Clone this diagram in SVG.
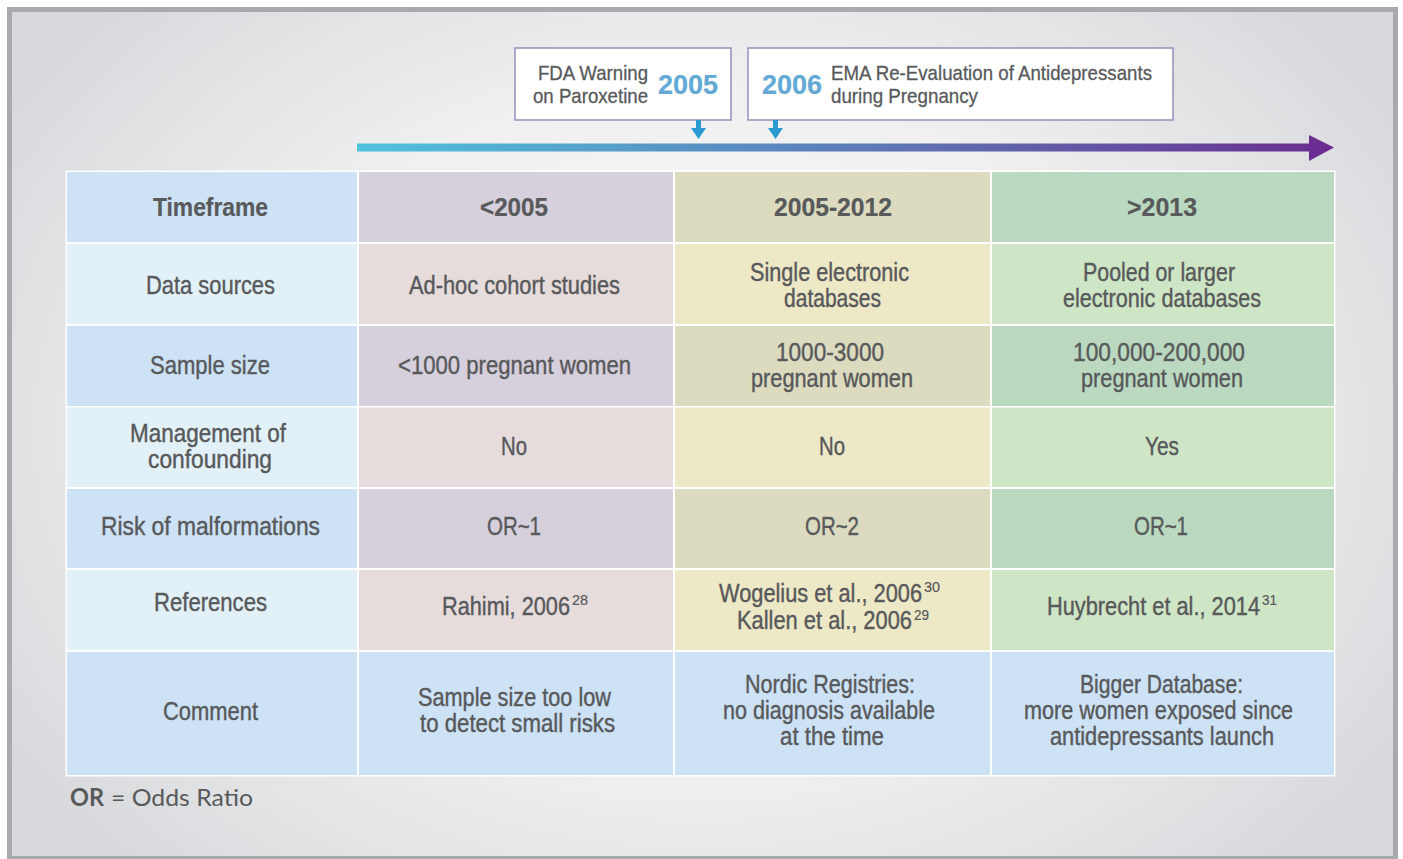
<svg xmlns="http://www.w3.org/2000/svg" width="1403" height="859" viewBox="0 0 1403 859">
  <defs>
    <radialGradient id="bgGrad" cx="700" cy="430" r="820" gradientUnits="userSpaceOnUse" gradientTransform="translate(700 430) scale(1 0.75) rotate(20) translate(-700 -430)">
      <stop offset="0" stop-color="#fafafa"/>
      <stop offset="0.55" stop-color="#f0f0f1"/>
      <stop offset="1" stop-color="#d8d9dc"/>
    </radialGradient>
    <linearGradient id="timeGrad" x1="357" y1="0" x2="1334" y2="0" gradientUnits="userSpaceOnUse">
      <stop offset="0" stop-color="#4fc2df"/>
      <stop offset="0.45" stop-color="#5b84bc"/>
      <stop offset="1" stop-color="#6a2d91"/>
    </linearGradient>
    <style>
      .t { font-family: "Liberation Sans Narrow", "Liberation Sans", Arial, sans-serif; font-size: 25px; fill: #58595b; stroke: #58595b; stroke-width: 0.4px; text-anchor: middle; }
      .b { font-weight: bold; font-size: 26px; stroke-width: 0.2px; }
      .s { font-size: 14px; stroke-width: 0.2px; }
      .l { text-anchor: start; }
      .r { text-anchor: end; }
      .box { fill: #ffffff; stroke: #958fb5; stroke-width: 1.5; }
      .yr { font-weight: bold; font-size: 28px; fill: #62a9d6; stroke: #62a9d6; stroke-width: 0.2px; text-anchor: start; }
      .bt { font-size: 21px; stroke-width: 0.3px; }
      .hd0 { fill: #cde2f5; }
      .lt0 { fill: #e2f1f7; }
      .hd1 { fill: #d6cfdc; }
      .lt1 { fill: #e6dcdb; }
      .hd2 { fill: #dcdbc0; }
      .lt2 { fill: #ede8c6; }
      .hd3 { fill: #bad9c0; }
      .lt3 { fill: #cfe6c6; }
      .cm { fill: #cde2f5; }
      .foot { font-family: Lato, "Open Sans", "Liberation Sans", sans-serif; font-size: 24px; fill: #58595b; }
      .tip { fill: #2a9ad0; }
    </style>
  </defs>

  <!-- page frame -->
  <rect x="0" y="0" width="1403" height="859" fill="#ffffff"/>
  <rect x="9.5" y="9.5" width="1386" height="849" fill="url(#bgGrad)" stroke="#a9aaad" stroke-width="5"/>

  <!-- timeline event boxes -->
  <g id="event-2005">
    <rect class="box" x="515" y="48" width="216" height="72"/>
    <text class="t bt r" x="648" y="80" textLength="110" lengthAdjust="spacingAndGlyphs">FDA Warning</text>
    <text class="t bt r" x="648" y="103" textLength="115" lengthAdjust="spacingAndGlyphs">on Paroxetine</text>
    <text class="t yr" x="658" y="94" textLength="60" lengthAdjust="spacingAndGlyphs">2005</text>
  </g>
  <g id="event-2006">
    <rect class="box" x="748" y="48" width="425" height="72"/>
    <text class="t yr" x="762" y="94" textLength="60" lengthAdjust="spacingAndGlyphs">2006</text>
    <text class="t bt l" x="831" y="80" textLength="321" lengthAdjust="spacingAndGlyphs">EMA Re-Evaluation of Antidepressants</text>
    <text class="t bt l" x="831" y="103" textLength="147" lengthAdjust="spacingAndGlyphs">during Pregnancy</text>
  </g>

  <!-- timeline arrow and event pointers -->
  <g id="connectors">
    <rect x="357" y="143.5" width="953" height="8" fill="url(#timeGrad)"/>
    <polygon points="1309,135 1334,147.5 1309,161" fill="#6a2d91"/>
    <polygon class="tip" points="696,120 701,120 701,128 706,128 698.5,139 691,128 696,128"/>
    <polygon class="tip" points="773,120 778,120 778,128 783,128 775.5,139 768,128 773,128"/>
  </g>

  <!-- comparison table -->
  <g id="table">
    <rect x="65.5" y="170.5" width="1270" height="606" fill="#ffffff"/>

    <g id="row-timeframe">
      <rect class="hd0" x="67" y="172" width="290" height="70"/>
      <rect class="hd1" x="359" y="172" width="314" height="70"/>
      <rect class="hd2" x="675" y="172" width="315" height="70"/>
      <rect class="hd3" x="992" y="172" width="342" height="70"/>
      <text class="t b" x="210.5" y="216" textLength="115" lengthAdjust="spacingAndGlyphs">Timeframe</text>
      <text class="t b" x="514" y="216" textLength="68" lengthAdjust="spacingAndGlyphs">&lt;2005</text>
      <text class="t b" x="833" y="216" textLength="118" lengthAdjust="spacingAndGlyphs">2005-2012</text>
      <text class="t b" x="1162" y="216" textLength="70" lengthAdjust="spacingAndGlyphs">&gt;2013</text>
    </g>

    <g id="row-data-sources">
      <rect class="lt0" x="67" y="244" width="290" height="80"/>
      <rect class="lt1" x="359" y="244" width="314" height="80"/>
      <rect class="lt2" x="675" y="244" width="315" height="80"/>
      <rect class="lt3" x="992" y="244" width="342" height="80"/>
      <text class="t" x="210.5" y="294" textLength="129" lengthAdjust="spacingAndGlyphs">Data sources</text>
      <text class="t" x="514.5" y="294" textLength="211" lengthAdjust="spacingAndGlyphs">Ad-hoc cohort studies</text>
      <text class="t" x="829.5" y="281" textLength="159" lengthAdjust="spacingAndGlyphs">Single electronic</text>
      <text class="t" x="832.5" y="307" textLength="97" lengthAdjust="spacingAndGlyphs">databases</text>
      <text class="t" x="1159" y="281" textLength="152" lengthAdjust="spacingAndGlyphs">Pooled or larger</text>
      <text class="t" x="1162" y="307" textLength="198" lengthAdjust="spacingAndGlyphs">electronic databases</text>
    </g>

    <g id="row-sample-size">
      <rect class="hd0" x="67" y="326" width="290" height="80"/>
      <rect class="hd1" x="359" y="326" width="314" height="80"/>
      <rect class="hd2" x="675" y="326" width="315" height="80"/>
      <rect class="hd3" x="992" y="326" width="342" height="80"/>
      <text class="t" x="210" y="374" textLength="120" lengthAdjust="spacingAndGlyphs">Sample size</text>
      <text class="t" x="514.5" y="374" textLength="233" lengthAdjust="spacingAndGlyphs">&lt;1000 pregnant women</text>
      <text class="t" x="830" y="361" textLength="108" lengthAdjust="spacingAndGlyphs">1000-3000</text>
      <text class="t" x="832" y="387" textLength="162" lengthAdjust="spacingAndGlyphs">pregnant women</text>
      <text class="t" x="1159" y="361" textLength="172" lengthAdjust="spacingAndGlyphs">100,000-200,000</text>
      <text class="t" x="1162" y="387" textLength="162" lengthAdjust="spacingAndGlyphs">pregnant women</text>
    </g>

    <g id="row-confounding">
      <rect class="lt0" x="67" y="407.5" width="290" height="79.5"/>
      <rect class="lt1" x="359" y="407.5" width="314" height="79.5"/>
      <rect class="lt2" x="675" y="407.5" width="315" height="79.5"/>
      <rect class="lt3" x="992" y="407.5" width="342" height="79.5"/>
      <text class="t" x="208" y="442" textLength="156" lengthAdjust="spacingAndGlyphs">Management of</text>
      <text class="t" x="210" y="468" textLength="124" lengthAdjust="spacingAndGlyphs">confounding</text>
      <text class="t" x="514" y="455" textLength="26" lengthAdjust="spacingAndGlyphs">No</text>
      <text class="t" x="832" y="455" textLength="26" lengthAdjust="spacingAndGlyphs">No</text>
      <text class="t" x="1162" y="455" textLength="34" lengthAdjust="spacingAndGlyphs">Yes</text>
    </g>

    <g id="row-malformations">
      <rect class="hd0" x="67" y="489" width="290" height="79"/>
      <rect class="hd1" x="359" y="489" width="314" height="79"/>
      <rect class="hd2" x="675" y="489" width="315" height="79"/>
      <rect class="hd3" x="992" y="489" width="342" height="79"/>
      <text class="t" x="210.5" y="535" textLength="219" lengthAdjust="spacingAndGlyphs">Risk of malformations</text>
      <text class="t" x="514" y="535" textLength="54" lengthAdjust="spacingAndGlyphs">OR~1</text>
      <text class="t" x="832" y="535" textLength="54" lengthAdjust="spacingAndGlyphs">OR~2</text>
      <text class="t" x="1161" y="535" textLength="54" lengthAdjust="spacingAndGlyphs">OR~1</text>
    </g>

    <g id="row-references">
      <rect class="lt0" x="67" y="570" width="290" height="80"/>
      <rect class="lt1" x="359" y="570" width="314" height="80"/>
      <rect class="lt2" x="675" y="570" width="315" height="80"/>
      <rect class="lt3" x="992" y="570" width="342" height="80"/>
      <text class="t" x="210.5" y="611" textLength="113" lengthAdjust="spacingAndGlyphs">References</text>
      <text class="t l" x="442" y="615"><tspan textLength="128" lengthAdjust="spacingAndGlyphs">Rahimi, 2006</tspan><tspan class="s" x="572" y="605" textLength="16" lengthAdjust="spacingAndGlyphs">28</tspan></text>
      <text class="t l" x="719" y="602"><tspan textLength="203" lengthAdjust="spacingAndGlyphs">Wogelius et al., 2006</tspan><tspan class="s" x="924" y="592" textLength="16" lengthAdjust="spacingAndGlyphs">30</tspan></text>
      <text class="t l" x="737" y="629"><tspan textLength="175" lengthAdjust="spacingAndGlyphs">Kallen et al., 2006</tspan><tspan class="s" x="914" y="620" textLength="15" lengthAdjust="spacingAndGlyphs">29</tspan></text>
      <text class="t l" x="1047" y="615"><tspan textLength="213" lengthAdjust="spacingAndGlyphs">Huybrecht et al., 2014</tspan><tspan class="s" x="1262" y="605" textLength="15" lengthAdjust="spacingAndGlyphs">31</tspan></text>
    </g>

    <g id="row-comment">
      <rect class="cm" x="67" y="652" width="290" height="123"/>
      <rect class="cm" x="359" y="652" width="314" height="123"/>
      <rect class="cm" x="675" y="652" width="315" height="123"/>
      <rect class="cm" x="992" y="652" width="342" height="123"/>
      <text class="t" x="210.5" y="720" textLength="95" lengthAdjust="spacingAndGlyphs">Comment</text>
      <text class="t" x="514.5" y="706" textLength="193" lengthAdjust="spacingAndGlyphs">Sample size too low</text>
      <text class="t" x="517.5" y="732" textLength="195" lengthAdjust="spacingAndGlyphs">to detect small risks</text>
      <text class="t" x="830" y="693" textLength="170" lengthAdjust="spacingAndGlyphs">Nordic Registries:</text>
      <text class="t" x="829" y="719" textLength="212" lengthAdjust="spacingAndGlyphs">no diagnosis available</text>
      <text class="t" x="832" y="745" textLength="104" lengthAdjust="spacingAndGlyphs">at the time</text>
      <text class="t" x="1161.5" y="693" textLength="163" lengthAdjust="spacingAndGlyphs">Bigger Database:</text>
      <text class="t" x="1158.5" y="719" textLength="269" lengthAdjust="spacingAndGlyphs">more women exposed since</text>
      <text class="t" x="1162" y="745" textLength="224" lengthAdjust="spacingAndGlyphs">antidepressants launch</text>
    </g>
  </g>

  <!-- legend -->
  <g id="legend">
    <text class="foot" x="70" y="806" font-weight="bold" textLength="34" lengthAdjust="spacingAndGlyphs">OR</text>
    <text class="foot" x="111" y="806" textLength="142" lengthAdjust="spacingAndGlyphs">= Odds Ratio</text>
  </g>
</svg>
